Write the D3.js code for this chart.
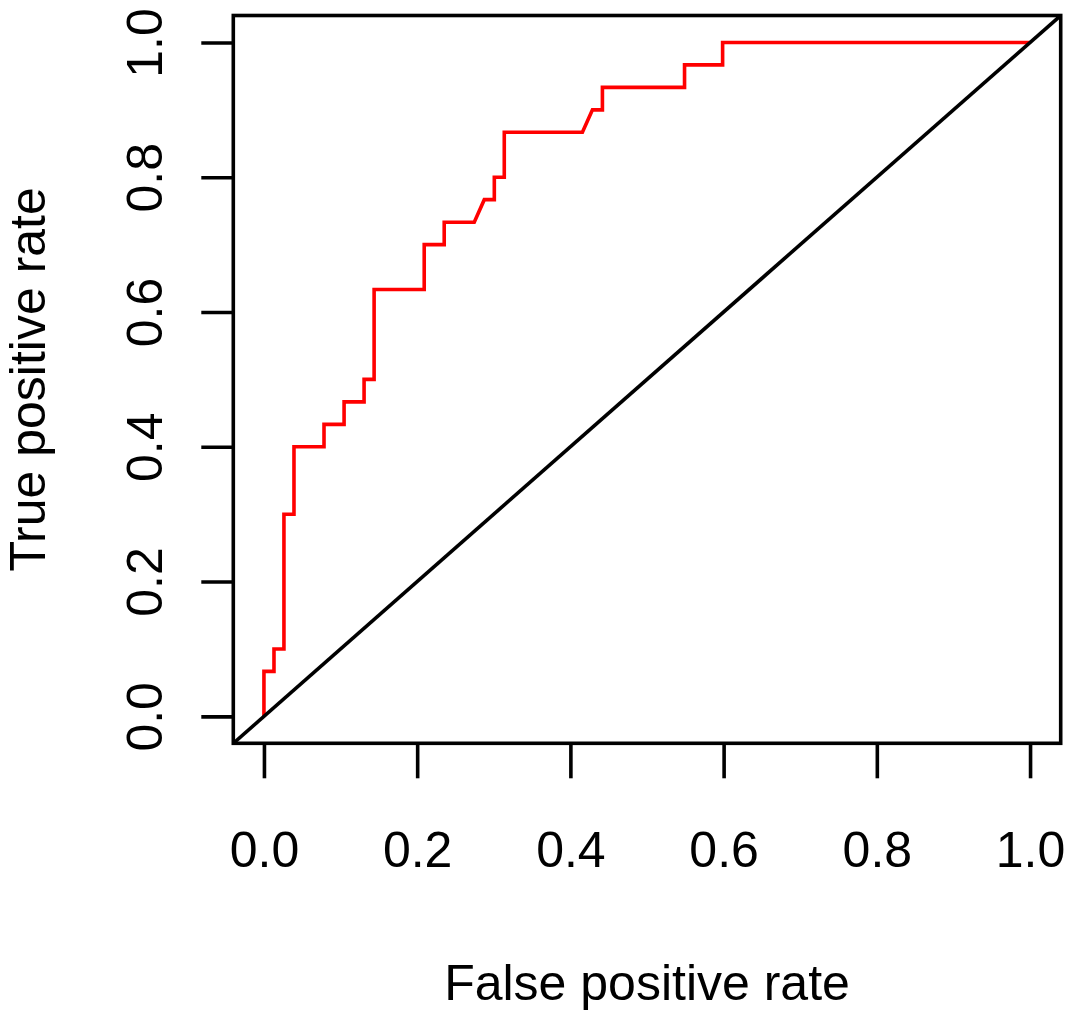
<!DOCTYPE html>
<html>
<head>
<meta charset="utf-8">
<script src="https://cdn.jsdelivr.net/npm/d3@7"></script>
<style>
  html, body { margin: 0; padding: 0; background: #ffffff; }
  svg { display: block; }
  text { font-family: "Liberation Sans", Arial, Helvetica, sans-serif; fill: #000; }
</style>
</head>
<body>
<div id="chart"></div>
<script>
'use strict';

// ── Data: ROC curve ────────────────────────────────────────────────────────
const fpr = [0, 0, 0.0131, 0.0131, 0.0261, 0.0261, 0.0392, 0.0392, 0.0784, 0.0784,
             0.1046, 0.1046, 0.1307, 0.1307, 0.1438, 0.1438, 0.2092, 0.2092, 0.2353, 0.2353,
             0.2745, 0.2876, 0.3007, 0.3007, 0.3137, 0.3137, 0.4157, 0.4288, 0.4418, 0.4418,
             0.5490, 0.5490, 0.5987, 0.5987, 1];
const tpr = [0, 0.0667, 0.0667, 0.1, 0.1, 0.3, 0.3, 0.4, 0.4, 0.4333,
             0.4333, 0.4667, 0.4667, 0.5, 0.5, 0.6333, 0.6333, 0.7, 0.7, 0.7333,
             0.7333, 0.7667, 0.7667, 0.8, 0.8, 0.8667, 0.8667, 0.9, 0.9, 0.9333,
             0.9333, 0.9667, 0.9667, 1, 1];
const tickVals = [0, 0.2, 0.4, 0.6, 0.8, 1.0];
const xTitle = 'False positive rate';
const yTitle = 'True positive rate';

// ── Layout ────────────────────────────────────────────────────────────────
const fullW = 1070, fullH = 1022;
const box = { left: 233.3, right: 1060.7, top: 15.5, bottom: 743.3 };
const FONT = 50;
const LW = 3.6;

const x = d3.scaleLinear().domain([-0.04, 1.04]).range([box.left, box.right]);
const y = d3.scaleLinear().domain([-0.04, 1.04]).range([box.bottom, box.top]);

const svg = d3.select('#chart')
  .append('svg')
  .attr('width', fullW)
  .attr('height', fullH)
  .attr('viewBox', `0 0 ${fullW} ${fullH}`);

svg.append('rect').attr('width', fullW).attr('height', fullH).attr('fill', '#fff');

svg.append('clipPath').attr('id', 'plot-clip')
  .append('rect')
  .attr('x', box.left).attr('y', box.top)
  .attr('width', box.right - box.left).attr('height', box.bottom - box.top);

// ROC curve
const pts = fpr.map((f, i) => [f, tpr[i]]);
const line = d3.line().x(d => x(d[0])).y(d => y(d[1]));

svg.append('path')
  .datum(pts)
  .attr('fill', 'none')
  .attr('stroke', '#ff0000')
  .attr('stroke-width', LW)
  .attr('d', line);

// Chance diagonal (abline 0,1), across the whole plot region
const dom = x.domain();
svg.append('path')
  .datum(dom.map(v => [v, v]))
  .attr('clip-path', 'url(#plot-clip)')
  .attr('fill', 'none')
  .attr('stroke', '#000')
  .attr('stroke-width', LW)
  .attr('d', line);

// Box
svg.append('rect')
  .attr('x', box.left).attr('y', box.top)
  .attr('width', box.right - box.left).attr('height', box.bottom - box.top)
  .attr('fill', 'none').attr('stroke', '#000').attr('stroke-width', LW);

// ── Axes ──────────────────────────────────────────────────────────────────
const fmt = d3.format('.1f');

const gx = svg.append('g')
  .attr('transform', `translate(0,${box.bottom})`)
  .call(d3.axisBottom(x).tickValues(tickVals).tickFormat(fmt).tickSize(35).tickPadding(53));
gx.select('.domain').remove();
gx.selectAll('line').attr('stroke', '#000').attr('stroke-width', LW);
gx.selectAll('text')
  .attr('font-size', FONT + 'px')
  .attr('font-family', null)
  .attr('fill', '#000');

const gy = svg.append('g')
  .attr('transform', `translate(${box.left},0)`)
  .call(d3.axisLeft(y).tickValues(tickVals).tickFormat(fmt).tickSize(32));
gy.select('.domain').remove();
gy.selectAll('line').attr('stroke', '#000').attr('stroke-width', LW);
gy.selectAll('text')
  .attr('x', null).attr('dy', null)
  .attr('text-anchor', 'middle')
  .attr('transform', 'translate(-71,0) rotate(-90)')
  .attr('font-size', FONT + 'px')
  .attr('font-family', null)
  .attr('fill', '#000');

// Titles
svg.append('text')
  .attr('x', (box.left + box.right) / 2)
  .attr('y', 1000)
  .attr('text-anchor', 'middle')
  .attr('font-size', FONT + 'px')
  .text(xTitle);

svg.append('text')
  .attr('transform', `translate(45,${(box.top + box.bottom) / 2}) rotate(-90)`)
  .attr('text-anchor', 'middle')
  .attr('font-size', FONT + 'px')
  .text(yTitle);
</script>
</body>
</html>
